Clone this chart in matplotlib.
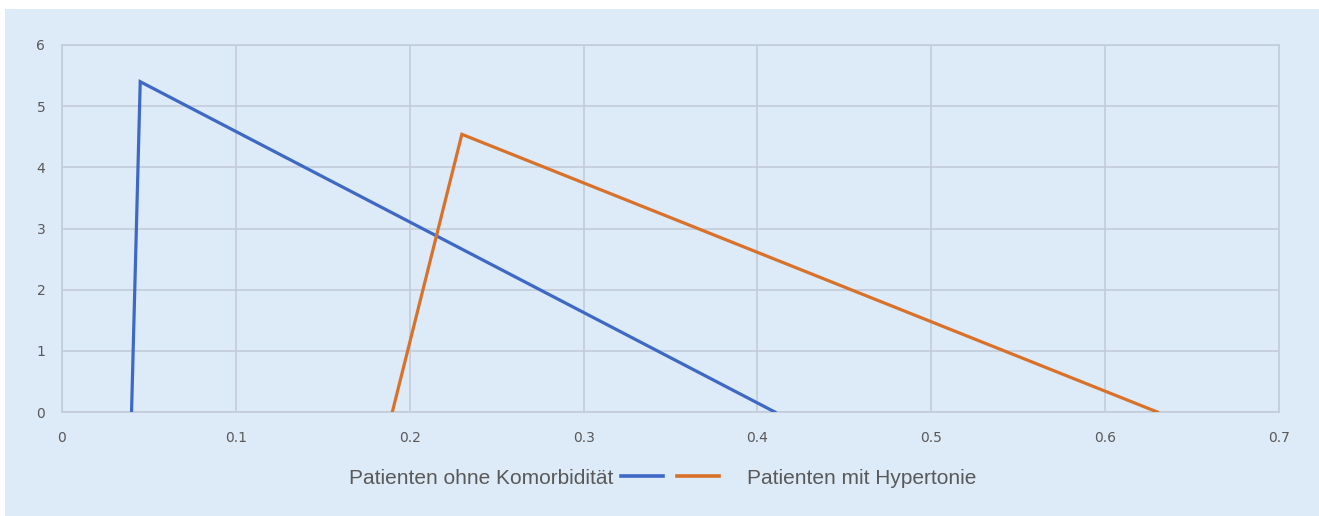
import matplotlib.pyplot as plt
from matplotlib.patches import Rectangle

# Daten
ohne_x = [0.04, 0.045, 0.41]
ohne_y = [0, 5.4, 0]
hyp_x = [0.19, 0.23, 0.63]
hyp_y = [0, 4.54, 0]
x_ticks = [0, 0.1, 0.2, 0.3, 0.4, 0.5, 0.6, 0.7]
x_labels = ['0', '0.1', '0.2', '0.3', '0.4', '0.5', '0.6', '0.7']
y_ticks = [0, 1, 2, 3, 4, 5, 6]

bg = '#ddeaf7'
grid_c = '#c3cdd9'
blue = '#3d68c6'
orange = '#d8722b'

fig = plt.figure(figsize=(13.19, 5.16), dpi=100)
fig.patch.set_facecolor('white')
fig.patches.append(Rectangle((5 / 1319, 0), 1 - 5 / 1319, 1 - 9 / 516,
                             transform=fig.transFigure, facecolor=bg,
                             edgecolor='none', zorder=-5))

ax = fig.add_axes([62 / 1319, 1 - 412 / 516, (1279 - 62) / 1319, (412 - 45) / 516])
ax.set_facecolor(bg)
ax.set_zorder(2)

l1, = ax.plot(ohne_x, ohne_y, color=blue, linewidth=2.3, solid_joinstyle='miter',
              label='Patienten ohne Komorbidität', zorder=3)
l2, = ax.plot(hyp_x, hyp_y, color=orange, linewidth=2.3, solid_joinstyle='miter',
              label='Patienten mit Hypertonie', zorder=3)

ax.set_xlim(0, 0.7)
ax.set_ylim(0, 6)
ax.set_xticks(x_ticks)
ax.set_xticklabels(x_labels)
ax.set_yticks(y_ticks)
ax.grid(True, color=grid_c, linewidth=1.2)
ax.set_axisbelow(True)
for s in ax.spines.values():
    s.set_color(grid_c)
    s.set_linewidth(1.2)
ax.tick_params(length=0, labelsize=10, labelcolor='#595959')
ax.tick_params(axis='x', pad=14)
ax.tick_params(axis='y', pad=12)

leg_font = {'family': 'Liberation Sans', 'size': 15}
leg1 = fig.legend(handles=[l1], loc='center right', bbox_to_anchor=(663 / 1319, 1 - 478 / 516),
                  frameon=False, markerfirst=False, prop=leg_font, handlelength=2.0,
                  handletextpad=0.4, borderpad=0, borderaxespad=0)
leg2 = fig.legend(handles=[l2], loc='center left', bbox_to_anchor=(677 / 1319, 1 - 478 / 516),
                  frameon=False, prop=leg_font, handlelength=2.0,
                  handletextpad=1.35, borderpad=0, borderaxespad=0)
for leg in (leg1, leg2):
    leg.set_zorder(3)
    for t in leg.get_texts():
        t.set_color('#595959')
    for h in leg.get_lines():
        h.set_linewidth(2.6)

fig.savefig('out.png', dpi=100, facecolor='white')
